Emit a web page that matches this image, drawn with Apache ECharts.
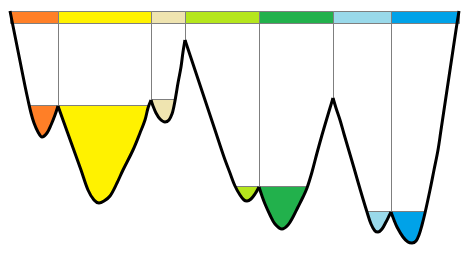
<!DOCTYPE html>
<html><head><meta charset="utf-8">
<script src="https://cdn.jsdelivr.net/npm/echarts@6/dist/echarts.min.js"></script>
<style>html,body{margin:0;padding:0;background:#fff}#c{width:470px;height:260px}</style>
</head><body><div id="c"></div>
<script>
// x = position along landscape, depth = energy measured downward from the top bar
const sectionBounds = [0, 48, 141, 175, 249, 323, 381, 449];
const sectionColors = ['#FF7F27', '#FFF200', '#EFE4B0', '#B5E61D', '#22B14C', '#99D9EA', '#00A2E8'];
const fillLevels = [95, 95, 89, 176, 176, 201, 201];
const barRange = [0, 12];
const dividerDepths = [95, 89, 29, 176, 87, 201];
const depthMax = 237;

const seg1 = [[0,0],[5,25],[10,50],[15,75],[18,89],[21,102],[24,112],[28,121],[32,126],[37,122],[41,114],[45,104],[48,95]];
const seg2 = [[48,95],[53,109],[62,134],[71,159],[78,179],[84,189],[89,192],[94,190],[100,185],[107,172],[113,159],[123,139],[130,122],[135,109],[138,97],[141,89]];
const seg3 = [[141,89],[143,95],[146,102],[150,108],[155,111],[159,109],[162,103],[164,95],[166,84],[168,72],[171,56],[173,41],[175,29]];
const seg4 = [[175,29],[185,59],[195,89],[205,119],[214,146],[220,162],[225,175],[230,184],[234,189],[237,190],[241,188],[245,183],[249,176]];
const seg5 = [[249,176],[252,185],[255,193],[260,204],[265,213],[272,218],[278,214],[283,206],[288,196],[293,186],[297,177],[302,161],[307,142],[312,124],[317,107],[320,97],[323,87]];
const seg6 = [[323,87],[326,97],[330,109],[334,123],[339,140],[344,157],[348,171],[353,188],[357,201],[361,213],[365,220],[368,221],[372,218],[376,211],[379,205],[381,201]];
const seg7 = [[381,201],[384,209],[387,216],[393,226],[398,231],[402,232],[406,230],[409,224],[412,214],[415,202],[420,179],[424,159],[428,139],[431,119],[434,99],[437,79],[440,59],[443,39],[446,19],[449,0]];
const segments = [seg1, seg2, seg3, seg4, seg5, seg6, seg7];

const GRAY = '#7F7F7F';
const SMOOTH = 0.35;

const sectionData = sectionColors.map((c, i) => [sectionBounds[i], sectionBounds[i + 1], fillLevels[i], i]);
const dividerData = dividerDepths.map((d, i) => [sectionBounds[i + 1], d]);

const series = [];
// basin fills with level line
series.push({
  type: 'custom', z: 1, silent: true, data: sectionData,
  renderItem: function (params, api) {
    const x0 = api.value(0), x1 = api.value(1), lv = api.value(2), idx = api.value(3);
    const p0 = api.coord([x0, lv]);
    const p1 = api.coord([x1, depthMax]);
    const ly = Math.round(p0[1]) - 0.5;
    return { type: 'group', children: [
      { type: 'rect', shape: { x: p0[0], y: ly, width: p1[0] - p0[0], height: p1[1] - ly }, style: { fill: sectionColors[idx] } },
      { type: 'line', shape: { x1: p0[0], y1: ly, x2: p1[0], y2: ly }, style: { stroke: GRAY, lineWidth: 1 } }
    ]};
  }
});
// white masks below the curve
segments.forEach(seg => series.push({
  type: 'line', data: seg, smooth: SMOOTH, symbol: 'none', z: 2, silent: true,
  lineStyle: { opacity: 0, width: 0 },
  areaStyle: { color: '#fff', opacity: 1, origin: 'end' }
}));
// divider lines
series.push({
  type: 'custom', z: 3, silent: true, data: dividerData,
  renderItem: function (params, api) {
    const a = api.coord([api.value(0), barRange[1]]);
    const b = api.coord([api.value(0), api.value(1)]);
    const x = Math.round(a[0]) + 0.5;
    return { type: 'line', shape: { x1: x, y1: a[1], x2: x, y2: b[1] }, style: { stroke: GRAY, lineWidth: 1 } };
  }
});
// top bar
series.push({
  type: 'custom', z: 3, silent: true, data: sectionData,
  renderItem: function (params, api) {
    const idx = api.value(3);
    const a = api.coord([api.value(0), barRange[0]]);
    const b = api.coord([api.value(1), barRange[1]]);
    const x0 = Math.round(a[0]) + 0.5, x1 = Math.round(b[0]) + 0.5;
    const y0 = Math.round(a[1]) + 0.5, y1 = Math.round(b[1]) + 0.5;
    return { type: 'rect', shape: { x: x0, y: y0, width: x1 - x0, height: y1 - y0 }, style: { fill: sectionColors[idx], stroke: GRAY, lineWidth: 1 } };
  }
});
// black curve
segments.forEach(seg => series.push({
  type: 'line', data: seg, smooth: SMOOTH, symbol: 'none', z: 4, silent: true,
  lineStyle: { color: '#000', width: 3, join: 'miter' }
}));

const chart = echarts.init(document.getElementById('c'), null, { renderer: 'canvas' });
chart.setOption({
  animation: false,
  grid: { left: 10, right: 11, top: 11, bottom: 12 },
  xAxis: { type: 'value', min: 0, max: 449, show: false },
  yAxis: { type: 'value', min: 0, max: depthMax, inverse: true, show: false },
  series: series
});
</script></body></html>
